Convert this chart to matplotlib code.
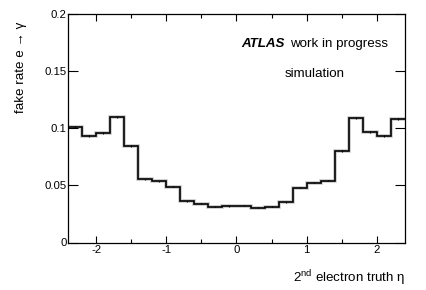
import numpy as np
import matplotlib
matplotlib.use('Agg')
import matplotlib.pyplot as plt

plt.rcParams['font.family'] = ['Liberation Sans', 'DejaVu Sans']
plt.rcParams['mathtext.fontset'] = 'custom'
plt.rcParams['mathtext.rm'] = 'Liberation Sans'
plt.rcParams['mathtext.it'] = 'Liberation Sans:italic'

# bin edges in eta and fake rate per bin
edges = np.round(np.arange(-2.4, 2.41, 0.2), 2)
rate = [0.1015, 0.0930, 0.0960, 0.1100, 0.0848, 0.0553, 0.0535, 0.0490,
        0.0362, 0.0340, 0.0315, 0.0320, 0.0322, 0.0306, 0.0312, 0.0352,
        0.0480, 0.0525, 0.0542, 0.0800, 0.1088, 0.0965, 0.0930, 0.1085]
err = [0.0009, 0.0008, 0.0008, 0.0009, 0.0008, 0.0006, 0.0006, 0.0006,
       0.0005, 0.0005, 0.0005, 0.0005, 0.0005, 0.0005, 0.0005, 0.0005,
       0.0006, 0.0006, 0.0006, 0.0008, 0.0009, 0.0008, 0.0008, 0.0009]
xticks = [-2, -1, 0, 1, 2]
xticklabels = ['-2', '-1', '0', '1', '2']
yticks = [0, 0.05, 0.1, 0.15, 0.2]
yticklabels = ['0', '0.05', '0.1', '0.15', '0.2']

fig = plt.figure(figsize=(4.27, 2.9), dpi=100)
ax = fig.add_axes([68 / 427, 47.5 / 290, 337 / 427, 228.5 / 290])

centers = 0.5 * (edges[:-1] + edges[1:])
ax.stairs(rate, edges, baseline=None, color='#c8c8c8', lw=2.6)
ax.stairs(rate, edges, baseline=None, color='black', lw=1.2)
ax.errorbar(centers, rate, yerr=err, fmt='none', ecolor='black', elinewidth=0.8)

ax.set_xlim(-2.4, 2.4)
ax.set_ylim(0, 0.2)
ax.set_xticks(xticks)
ax.set_xticklabels(xticklabels)
ax.set_xticks([-1.5, -0.5, 0.5, 1.5], minor=True)
ax.set_yticks(yticks)
ax.set_yticklabels(yticklabels)
ax.tick_params(axis='x', which='major', direction='in', length=4.8, width=0.8,
               top=True, labelsize=8.2, pad=2)
ax.tick_params(axis='x', which='minor', direction='in', length=2.6, width=0.8, top=True)
ax.tick_params(axis='y', which='major', direction='in', length=7.2, width=0.8,
               right=True, labelsize=8.2, pad=1)
for s in ax.spines.values():
    s.set_linewidth(0.9)

fig.text(21 / 427, 1 - 22 / 290, 'fake rate e → γ', rotation=90,
         ha='center', va='top', fontsize=9.6)
fig.text(405 / 427, 8 / 290, '2$^{\\mathrm{nd}}$ electron truth η',
         ha='right', va='baseline', fontsize=9.6)

fig.text(241.7 / 427, 0.839, 'ATLAS', fontsize=9.6, fontweight='bold',
         fontstyle='italic', ha='left', va='baseline')
fig.text(290 / 427, 0.839, 'work in progress', fontsize=9.6,
         ha='left', va='baseline')
fig.text(285 / 427, 0.7334, 'simulation', fontsize=9.6,
         ha='left', va='baseline')

fig.savefig('out.png', dpi=100)
